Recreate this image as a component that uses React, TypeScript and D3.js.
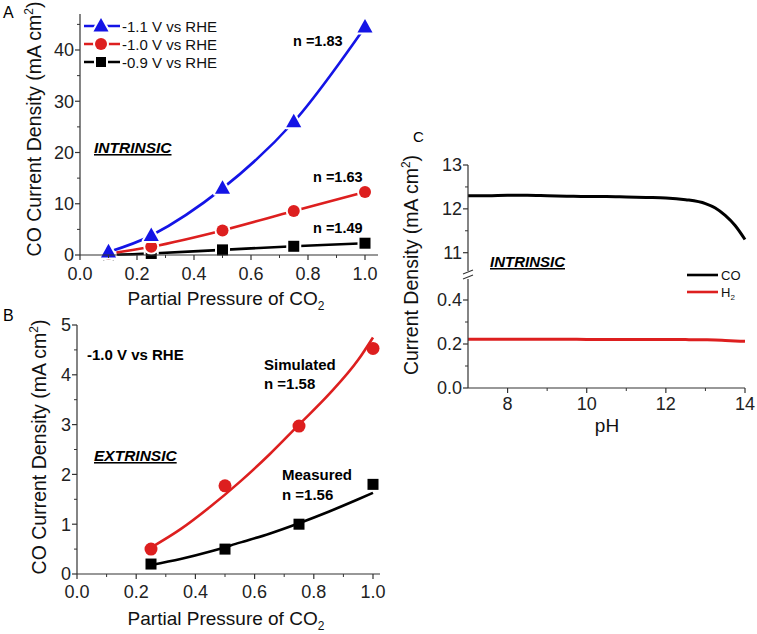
import React from "react";
import * as d3 from "d3";

// ---------- Data ----------
// Panel A
const pressuresA = [0.1, 0.25, 0.5, 0.75, 1.0];
const jA11 = [0.6, 3.8, 13.0, 26.0, 44.5];
const jA10 = [0.25, 1.6, 4.8, 8.6, 12.3];
const jA09 = [0.05, 0.3, 1.0, 1.7, 2.3];
const legendA = ["-1.1 V vs RHE", "-1.0 V vs RHE", "-0.9 V vs RHE"];

// Panel B
const pressuresB = [0.25, 0.5, 0.75, 1.0];
const simulatedB = [0.5, 1.77, 2.97, 4.53];
const measuredB = [0.2, 0.5, 1.0, 1.8];
const fitXB = [0.25, 0.35, 0.45, 0.55, 0.65, 0.75, 0.85, 0.95, 1.0];
const fitSimB = [0.53, 0.9, 1.35, 1.85, 2.4, 3.0, 3.6, 4.3, 4.75];
const fitMeasB = [0.18, 0.3, 0.45, 0.63, 0.81, 1.02, 1.25, 1.5, 1.63];

// Panel C
const pHC = [7, 7.5, 8, 8.5, 9, 9.5, 10, 10.5, 11, 11.5, 12, 12.5, 13, 13.25, 13.5, 13.75, 14];
const jCO = [12.3, 12.3, 12.31, 12.31, 12.3, 12.29, 12.28, 12.28, 12.27, 12.26, 12.25, 12.21, 12.12, 12.02, 11.85, 11.62, 11.3];
const jH2 = [0.222, 0.222, 0.222, 0.222, 0.222, 0.222, 0.221, 0.221, 0.221, 0.221, 0.221, 0.22, 0.219, 0.218, 0.216, 0.214, 0.212];

// Tick values
const ticksP = [0, 0.2, 0.4, 0.6, 0.8, 1.0];
const minorP = [0.1, 0.3, 0.5, 0.7, 0.9];
const ticksAy = [0, 10, 20, 30, 40];
const minorAy = [5, 15, 25, 35, 45];
const ticksBy = [0, 1, 2, 3, 4, 5];
const minorBy = [0.5, 1.5, 2.5, 3.5, 4.5];
const ticksCx = [8, 10, 12, 14];
const minorCx = [9, 11, 13];
const ticksCyHi = [11, 12, 13];
const minorCyHi = [11.5, 12.5];
const ticksCyLo = [0, 0.2, 0.4];
const minorCyLo = [0.1, 0.3];

const FONT = "'Liberation Sans', Arial, Helvetica, sans-serif";
const BLUE = "#1414e6";
const RED = "#dd1f1f";
const AX = "#333";

type Scale = d3.ScaleLinear<number, number>;

function BottomAxis({ scale, y, x0, x1, major, minor, fmt, fontSize, labelY }: any) {
  return (
    <g>
      <line x1={x0} x2={x1} y1={y} y2={y} stroke={AX} strokeWidth={1.2} />
      {major.map((v: number) => (
        <line key={"M" + v} x1={scale(v)} x2={scale(v)} y1={y} y2={y + 5} stroke={AX} strokeWidth={1.2} />
      ))}
      {minor.map((v: number) => (
        <line key={"m" + v} x1={scale(v)} x2={scale(v)} y1={y} y2={y + 3} stroke={AX} strokeWidth={1} />
      ))}
      {major.map((v: number) => (
        <text key={"t" + v} x={scale(v)} y={labelY} textAnchor="middle" fontSize={fontSize} fill="#222" fontFamily={FONT}>
          {fmt(v)}
        </text>
      ))}
    </g>
  );
}

function LeftAxis({ scale, x, y0, y1, major, minor, fmt, fontSize, noLine }: any) {
  return (
    <g>
      {!noLine && <line x1={x} x2={x} y1={y0} y2={y1} stroke={AX} strokeWidth={1.2} />}
      {major.map((v: number) => (
        <line key={"M" + v} x1={x - 5} x2={x} y1={scale(v)} y2={scale(v)} stroke={AX} strokeWidth={1.2} />
      ))}
      {minor.map((v: number) => (
        <line key={"m" + v} x1={x - 3} x2={x} y1={scale(v)} y2={scale(v)} stroke={AX} strokeWidth={1} />
      ))}
      {major.map((v: number) => (
        <text key={"t" + v} x={x - 6} y={scale(v)} dy="0.36em" textAnchor="end" fontSize={fontSize} fill="#222" fontFamily={FONT}>
          {fmt(v)}
        </text>
      ))}
    </g>
  );
}

function Marker({ kind, x, y, color, size }: any) {
  const s = size;
  if (kind === "tri") {
    const p = `M${x},${y - s * 0.62}L${x + s * 0.58},${y + s * 0.42}L${x - s * 0.58},${y + s * 0.42}Z`;
    return (
      <g>
        <path d={p} fill="white" stroke="white" strokeWidth={4} strokeLinejoin="round" />
        <path d={p} fill={color} />
      </g>
    );
  }
  if (kind === "circ") {
    return (
      <g>
        <circle cx={x} cy={y} r={s / 2 + 2} fill="white" />
        <circle cx={x} cy={y} r={s / 2} fill={color} />
      </g>
    );
  }
  return (
    <g>
      <rect x={x - s / 2 - 2} y={y - s / 2 - 2} width={s + 4} height={s + 4} fill="white" />
      <rect x={x - s / 2} y={y - s / 2} width={s} height={s} fill={color} />
    </g>
  );
}

function PanelA() {
  const x: Scale = d3.scaleLinear().domain([0, 1]).range([80, 365]);
  const y: Scale = d3.scaleLinear().domain([0, 40]).range([255, 50]);
  const line = d3
    .line<number>()
    .x((_, i) => x(pressuresA[i]))
    .y((d) => y(d))
    .curve(d3.curveCatmullRom.alpha(0.5));
  const series = [
    { vals: jA09, color: "#000", kind: "sq", size: 11 },
    { vals: jA10, color: RED, kind: "circ", size: 12 },
    { vals: jA11, color: BLUE, kind: "tri", size: 13 },
  ];
  const legend = [
    { label: legendA[0], color: BLUE, kind: "tri", size: 13 },
    { label: legendA[1], color: RED, kind: "circ", size: 12 },
    { label: legendA[2], color: "#000", kind: "sq", size: 10 },
  ];
  const legY = [26, 44, 62];
  return (
    <g>
      <text x={3} y={18} fontSize={16} fontFamily={FONT}>A</text>
      {series.map((s, k) => (
        <g key={k}>
          <path d={line(s.vals) || ""} fill="none" stroke={s.color} strokeWidth={2.6} />
          {s.vals.map((v, i) => (
            <Marker key={i} kind={s.kind} x={x(pressuresA[i])} y={y(v)} color={s.color} size={s.size} />
          ))}
        </g>
      ))}
      <LeftAxis scale={y} x={80} y0={14} y1={255} major={ticksAy} minor={minorAy} fmt={(v: number) => String(v)} fontSize={18} />
      <BottomAxis scale={x} y={255} x0={80} x1={378} major={ticksP} minor={minorP} fmt={d3.format(".1f")} fontSize={18} labelY={280} />
      {legend.map((l, i) => (
        <g key={i}>
          <line x1={84} x2={120} y1={legY[i]} y2={legY[i]} stroke={l.color} strokeWidth={2.6} />
          <Marker kind={l.kind} x={101} y={legY[i]} color={l.color} size={l.size} />
          <text x={122} y={legY[i] + 5.5} fontSize={15} fontFamily={FONT} fill="#111">{l.label}</text>
        </g>
      ))}
      <text x={293} y={46} fontSize={14.5} fontWeight="bold" fontFamily={FONT}>n =1.83</text>
      <text x={313} y={182} fontSize={14.5} fontWeight="bold" fontFamily={FONT}>n =1.63</text>
      <text x={313} y={233} fontSize={14.5} fontWeight="bold" fontFamily={FONT}>n =1.49</text>
      <text x={94} y={153} fontSize={15.5} fontWeight="bold" fontStyle="italic" fontFamily={FONT} style={{ textDecoration: "underline" }}>INTRINSIC</text>
      <text transform="translate(41,129) rotate(-90)" textAnchor="middle" fontSize={19.5} fontFamily={FONT} fill="#111">
        CO Current Density (mA cm<tspan fontSize={12} dy={-8}>2</tspan><tspan dy={8}>)</tspan>
      </text>
      <text x={226} y={305} textAnchor="middle" fontSize={19} fontFamily={FONT} fill="#111">
        Partial Pressure of CO<tspan fontSize={12} dy={5}>2</tspan>
      </text>
    </g>
  );
}

function PanelB() {
  const x: Scale = d3.scaleLinear().domain([0, 1]).range([77, 373]);
  const y: Scale = d3.scaleLinear().domain([0, 5]).range([574, 325]);
  const fit = (vals: number[]) =>
    d3
      .line<number>()
      .x((_, i) => x(fitXB[i]))
      .y((d) => y(d))
      .curve(d3.curveMonotoneX)(vals) || "";
  return (
    <g>
      <text x={3} y={321} fontSize={16} fontFamily={FONT}>B</text>
      <path d={fit(fitSimB)} fill="none" stroke={RED} strokeWidth={2.6} />
      <path d={fit(fitMeasB)} fill="none" stroke="#000" strokeWidth={2.6} />
      {simulatedB.map((v, i) => (
        <circle key={"s" + i} cx={x(pressuresB[i])} cy={y(v)} r={6.5} fill={RED} />
      ))}
      {measuredB.map((v, i) => (
        <rect key={"m" + i} x={x(pressuresB[i]) - 5.5} y={y(v) - 5.5} width={11} height={11} fill="#000" />
      ))}
      <LeftAxis scale={y} x={77} y0={325} y1={574} major={ticksBy} minor={minorBy} fmt={(v: number) => String(v)} fontSize={18} />
      <BottomAxis scale={x} y={574} x0={77} x1={380} major={ticksP} minor={minorP} fmt={d3.format(".1f")} fontSize={18} labelY={598} />
      <text x={87} y={360} fontSize={15} fontWeight="bold" fontFamily={FONT}>-1.0 V vs RHE</text>
      <text x={264} y={370} fontSize={15} fontWeight="bold" fontFamily={FONT}>Simulated</text>
      <text x={264} y={389} fontSize={15} fontWeight="bold" fontFamily={FONT}>n =1.58</text>
      <text x={94} y={461} fontSize={15.5} fontWeight="bold" fontStyle="italic" fontFamily={FONT} style={{ textDecoration: "underline" }}>EXTRINSIC</text>
      <text x={282} y={480} fontSize={15} fontWeight="bold" fontFamily={FONT}>Measured</text>
      <text x={282} y={500} fontSize={15} fontWeight="bold" fontFamily={FONT}>n =1.56</text>
      <text transform="translate(46,447) rotate(-90)" textAnchor="middle" fontSize={19.5} fontFamily={FONT} fill="#111">
        CO Current Density (mA cm<tspan fontSize={12} dy={-8}>2</tspan><tspan dy={8}>)</tspan>
      </text>
      <text x={226} y={625} textAnchor="middle" fontSize={19} fontFamily={FONT} fill="#111">
        Partial Pressure of CO<tspan fontSize={12} dy={5}>2</tspan>
      </text>
    </g>
  );
}

function PanelC() {
  const x: Scale = d3.scaleLinear().domain([7, 14]).range([468, 745]);
  const yHi: Scale = d3.scaleLinear().domain([11, 13]).range([252.7, 165]);
  const yLo: Scale = d3.scaleLinear().domain([0, 0.4]).range([388, 300]);
  const lineHi = d3.line<number>().x((_, i) => x(pHC[i])).y((d) => yHi(d)).curve(d3.curveMonotoneX);
  const lineLo = d3.line<number>().x((_, i) => x(pHC[i])).y((d) => yLo(d)).curve(d3.curveMonotoneX);
  const ax = 468;
  return (
    <g>
      <text x={413} y={142} fontSize={15} fontFamily={FONT}>C</text>
      <path d={lineHi(jCO) || ""} fill="none" stroke="#000" strokeWidth={3} />
      <path d={lineLo(jH2) || ""} fill="none" stroke={RED} strokeWidth={3} />
      <line x1={ax} x2={ax} y1={165} y2={271} stroke={AX} strokeWidth={1.2} />
      <line x1={ax} x2={ax} y1={279} y2={388} stroke={AX} strokeWidth={1.2} />
      <line x1={ax - 5} x2={ax + 5} y1={274} y2={270} stroke={AX} strokeWidth={1.1} />
      <line x1={ax - 5} x2={ax + 5} y1={279} y2={275} stroke={AX} strokeWidth={1.1} />
      <LeftAxis scale={yHi} x={ax} y0={165} y1={271} major={ticksCyHi} minor={minorCyHi} fmt={(v: number) => String(v)} fontSize={18} noLine />
      <LeftAxis scale={yLo} x={ax} y0={279} y1={388} major={ticksCyLo} minor={minorCyLo} fmt={d3.format(".1f")} fontSize={18} noLine />
      <BottomAxis scale={x} y={388} x0={ax} x1={745} major={ticksCx} minor={minorCx} fmt={(v: number) => String(v)} fontSize={18} labelY={410} />
      <text x={490} y={267} fontSize={15} fontWeight="bold" fontStyle="italic" fontFamily={FONT} style={{ textDecoration: "underline" }}>INTRINSIC</text>
      <line x1={687} x2={718} y1={275} y2={275} stroke="#000" strokeWidth={2.6} />
      <text x={721} y={280} fontSize={13} fontFamily={FONT} fill="#111">CO</text>
      <line x1={687} x2={718} y1={292} y2={292} stroke={RED} strokeWidth={2.6} />
      <text x={721} y={297} fontSize={13} fontFamily={FONT} fill="#111">
        H<tspan fontSize={8} dy={3}>2</tspan>
      </text>
      <text transform="translate(418,265) rotate(-90)" textAnchor="middle" fontSize={19.5} fontFamily={FONT} fill="#111">
        Current Density (mA cm<tspan fontSize={12} dy={-8}>2</tspan><tspan dy={8}>)</tspan>
      </text>
      <text x={607} y={432} textAnchor="middle" fontSize={19} fontFamily={FONT} fill="#111">pH</text>
    </g>
  );
}

export default function App() {
  return (
    <svg width={757} height={634} viewBox="0 0 757 634" style={{ position: "absolute", left: 0, top: 0, background: "white" }}>
      <rect width={757} height={634} fill="white" />
      <PanelA />
      <PanelB />
      <PanelC />
    </svg>
  );
}
